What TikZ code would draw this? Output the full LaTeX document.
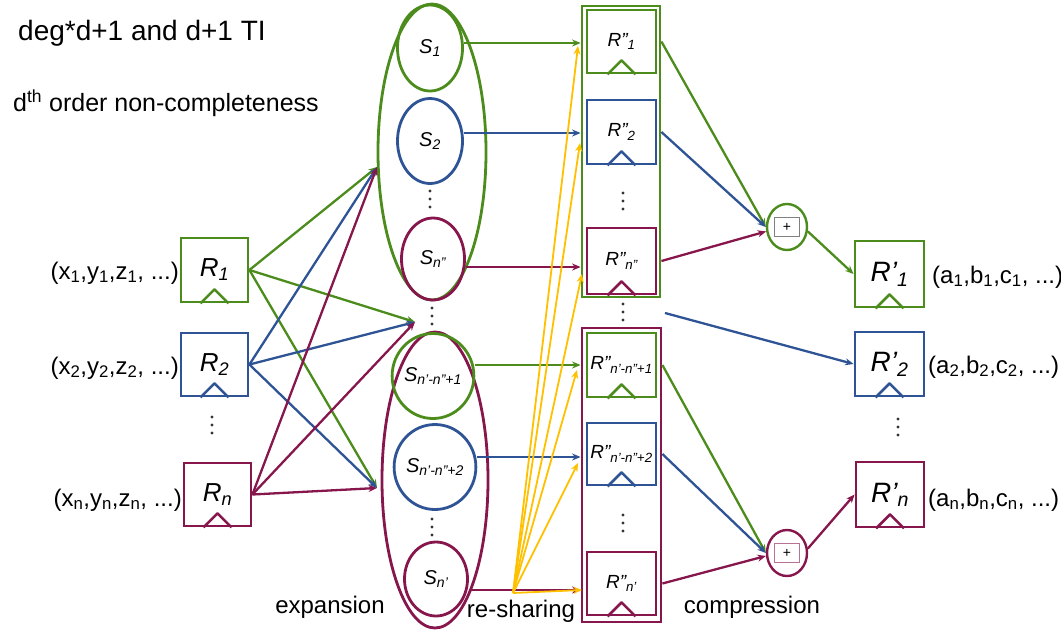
\documentclass[tikz,border=0pt]{standalone}
\usepackage{fontspec}
\setmainfont{Liberation Sans}
\usetikzlibrary{arrows.meta,shapes.geometric}
\definecolor{gcol}{RGB}{76,140,28}
\definecolor{bcol}{RGB}{46,84,150}
\definecolor{mcol}{RGB}{134,22,76}
\definecolor{ycol}{RGB}{255,192,0}
\newcommand{\fs}[1]{\fontsize{#1}{#1}\selectfont}
\begin{document}
\begin{tikzpicture}[x=1pt,y=-1pt,
  reg/.style={draw=#1, line width=2.8pt, inner sep=0pt, rectangle},
  ell/.style={draw=#1, line width=2.8pt, ellipse, inner sep=0pt},
  con/.style={draw=#1, line width=2.3pt, -{Stealth[length=8.5pt,width=7pt]}},
  ycon/.style={draw=ycol, line width=1.8pt, -{Stealth[length=8.5pt,width=7pt]}},
  lbl/.style={inner sep=0pt, font=\fs{24}},
  slbl/.style={font=\fs{20}\itshape},
  rlbl/.style={font=\fs{19}\itshape},
  vdots/.pic={\fill[black!80] (0,-8) circle (1.6pt) (0,0) circle (1.6pt) (0,8) circle (1.6pt);}
]
\useasboundingbox (0,0) rectangle (1061,630);

% titles
\node[anchor=west, inner sep=0pt, font=\fs{28}] (t1) at (18,33) {deg*d+1 and d+1 TI};
\node[anchor=west, inner sep=0pt, font=\fs{25}] (t2) at (13,103) {d\textsuperscript{th} order non-completeness};

% left registers
\node[reg=gcol, minimum width=67pt, minimum height=64pt, font=\fs{26}\itshape] (r1) at (214.5,270) {R\textsubscript{1}};
\node[reg=bcol, minimum width=67pt, minimum height=63pt, font=\fs{26}\itshape] (r2) at (214.5,364.5) {R\textsubscript{2}};
\node[reg=mcol, minimum width=67pt, minimum height=63pt, font=\fs{26}\itshape] (rn) at (217.5,494.5) {R\textsubscript{n}};
\pic at (212,425) {vdots};

\node[lbl, anchor=east] (lx1) at (179,273) {(x\textsubscript{1},y\textsubscript{1},z\textsubscript{1}, ...)};
\node[lbl, anchor=east] (lx2) at (179,368) {(x\textsubscript{2},y\textsubscript{2},z\textsubscript{2}, ...)};
\node[lbl, anchor=east] (lxn) at (182,500) {(x\textsubscript{n},y\textsubscript{n},z\textsubscript{n}, ...)};

% share ellipses
\node[ell=gcol, minimum width=108pt, minimum height=296pt] (eTop) at (432,152) {};
\node[ell=mcol, minimum width=106pt, minimum height=296pt] (eBot) at (435,480) {};
\node[ell=gcol, minimum width=65pt, minimum height=86pt, slbl] (s1) at (430,48) {S\textsubscript{1}};
\node[ell=bcol, minimum width=65pt, minimum height=85pt, slbl] (s2) at (430,141) {S\textsubscript{2}};
\node[ell=mcol, minimum width=63pt, minimum height=82pt, slbl] (sn2) at (433,259) {S\textsubscript{n”}};
\node[ell=gcol, minimum width=64pt, minimum height=85pt, slbl] (s3) at (433,376) {S\textsubscript{n’-n”+1}};
\node[ell=bcol, minimum width=64pt, minimum height=85pt, slbl] (s4) at (435,467) {S\textsubscript{n’-n”+2}};
\node[ell=mcol, minimum width=63pt, minimum height=74pt, slbl] (sn1) at (436,579) {S\textsubscript{n’}};
\pic at (430,199) {vdots};
\pic at (432,316) {vdots};
\pic at (432,527) {vdots};

% R'' frames and registers
\node[reg=gcol, line width=2.8pt, minimum width=78pt, minimum height=291pt] (fT) at (621,151.5) {};
\node[reg=mcol, line width=2.8pt, minimum width=79pt, minimum height=294pt] (fB) at (621.5,475) {};
\node[reg=gcol, minimum width=69pt, minimum height=63pt, rlbl] (rr1) at (621.5,41.5) {R”\textsubscript{1}};
\node[reg=bcol, minimum width=69pt, minimum height=64pt, rlbl] (rr2) at (621.5,132) {R”\textsubscript{2}};
\node[reg=mcol, minimum width=69pt, minimum height=66pt, rlbl] (rr3) at (621.5,261) {R”\textsubscript{n”}};
\node[reg=gcol, minimum width=69pt, minimum height=64pt, rlbl] (rr4) at (621.5,365) {R”\textsubscript{n’-n”+1}};
\node[reg=bcol, minimum width=69pt, minimum height=62pt, rlbl] (rr5) at (621.5,454) {R”\textsubscript{n’-n”+2}};
\node[reg=mcol, minimum width=69pt, minimum height=63pt, rlbl] (rr6) at (621.5,583.5) {R”\textsubscript{n’}};
\pic at (623,201) {vdots};
\pic at (623,312) {vdots};
\pic at (623,523) {vdots};

% adders
\node[ell=gcol, line width=2.4pt, minimum width=40pt, minimum height=46pt] (p1) at (787,227) {};
\node[draw=gray, line width=1.2pt, minimum width=25pt, minimum height=19pt, inner sep=0pt, font=\fs{14}] (p1b) at (787,227) {+};
\node[ell=mcol, line width=2.4pt, minimum width=40pt, minimum height=46pt] (p2) at (787,553) {};
\node[draw=mcol!60, line width=1.2pt, minimum width=25pt, minimum height=19pt, inner sep=0pt, font=\fs{14}] (p2b) at (787,553) {+};

% output registers
\node[reg=gcol, minimum width=69pt, minimum height=66pt, font=\fs{28}\itshape] (rp1) at (889.5,274) {R’\textsubscript{1}};
\node[reg=bcol, minimum width=69pt, minimum height=64pt, font=\fs{28}\itshape] (rp2) at (889.5,364) {R’\textsubscript{2}};
\node[reg=mcol, minimum width=68pt, minimum height=65pt, font=\fs{28}\itshape] (rpn) at (890,494.5) {R’\textsubscript{n}};
\pic at (898,427) {vdots};

\node[lbl, anchor=west] (la1) at (932,277) {(a\textsubscript{1},b\textsubscript{1},c\textsubscript{1}, ...)};
\node[lbl, anchor=west] (la2) at (928,367) {(a\textsubscript{2},b\textsubscript{2},c\textsubscript{2}, ...)};
\node[lbl, anchor=west] (lan) at (928,500) {(a\textsubscript{n},b\textsubscript{n},c\textsubscript{n}, ...)};

% clock triangles
\foreach \n/\c in {r1/gcol,r2/bcol,rn/mcol,rr1/gcol,rr2/bcol,rr3/mcol,rr4/gcol,rr5/bcol,rr6/mcol,rp1/gcol,rp2/bcol,rpn/mcol}
  \draw[draw=\c, line width=2.6pt, line join=round] ([xshift=-14pt]\n.south) -- ([yshift=14pt]\n.south) -- ([xshift=14pt]\n.south);

% bottom labels
\node[lbl] (lexp) at (330,607) {expansion};
\node[lbl] (lres) at (521,611) {re-sharing};
\node[lbl] (lcom) at (752,607) {compression};

% expansion connectors
\coordinate (eT) at (377,167);
\coordinate (eM) at (415,322);
\coordinate (eB) at (377,488);
\foreach \s/\c in {r1/gcol,r2/bcol,rn/mcol}
  \foreach \t in {eT,eM,eB}
    \draw[con=\c] (\s.east) -- (\t);

% share -> R''
\draw[con=gcol] ([yshift=5pt]s1.east) -- ([yshift=5pt]s1.east -| fT.west);
\draw[con=bcol] ([yshift=8pt]s2.east) -- ([yshift=8pt]s2.east -| fT.west);
\draw[con=mcol] ([yshift=-8pt]sn2.east) -- ([yshift=-8pt]sn2.east -| fT.west);
\draw[con=gcol] ([yshift=11pt]s3.east) -- ([yshift=11pt]s3.east -| fB.west);
\draw[con=bcol] ([yshift=10pt]s4.east) -- ([yshift=10pt]s4.east -| fB.west);
\draw[con=mcol] ([yshift=-11pt]sn1.east) -- ([yshift=-11pt]sn1.east -| fB.west);

% re-sharing (yellow)
\coordinate (ys) at (513,593);
\coordinate (y1) at (578,46);
\coordinate (y2) at (580,143);
\coordinate (y3) at (582,274);
\coordinate (y4) at (577,370);
\coordinate (y5) at (578,463);
\coordinate (y6) at (582,590);
\foreach \t in {y1,y2,y3,y4,y5,y6}
  \draw[ycon] (ys) -- (\t);

% compression
\draw[con=gcol] (rr1.east -| fT.east) -- (p1.west);
\draw[con=bcol] (rr2.east -| fT.east) -- (p1.west);
\draw[con=mcol] (rr3.east -| fT.east) -- (p1.192);
\coordinate (bf) at (665,313);
\draw[con=bcol] (bf) -- (rp2.west);
\draw[con=gcol] (rr4.east -| fB.east) -- (p2.west);
\draw[con=bcol] (rr5.east -| fB.east) -- (p2.west);
\draw[con=mcol] (rr6.east -| fB.east) -- (p2.188);
\draw[con=gcol] (p1.-12) -- (rp1.west);
\draw[con=mcol] (p2.12) -- (rpn.west);
\end{tikzpicture}
\end{document}
